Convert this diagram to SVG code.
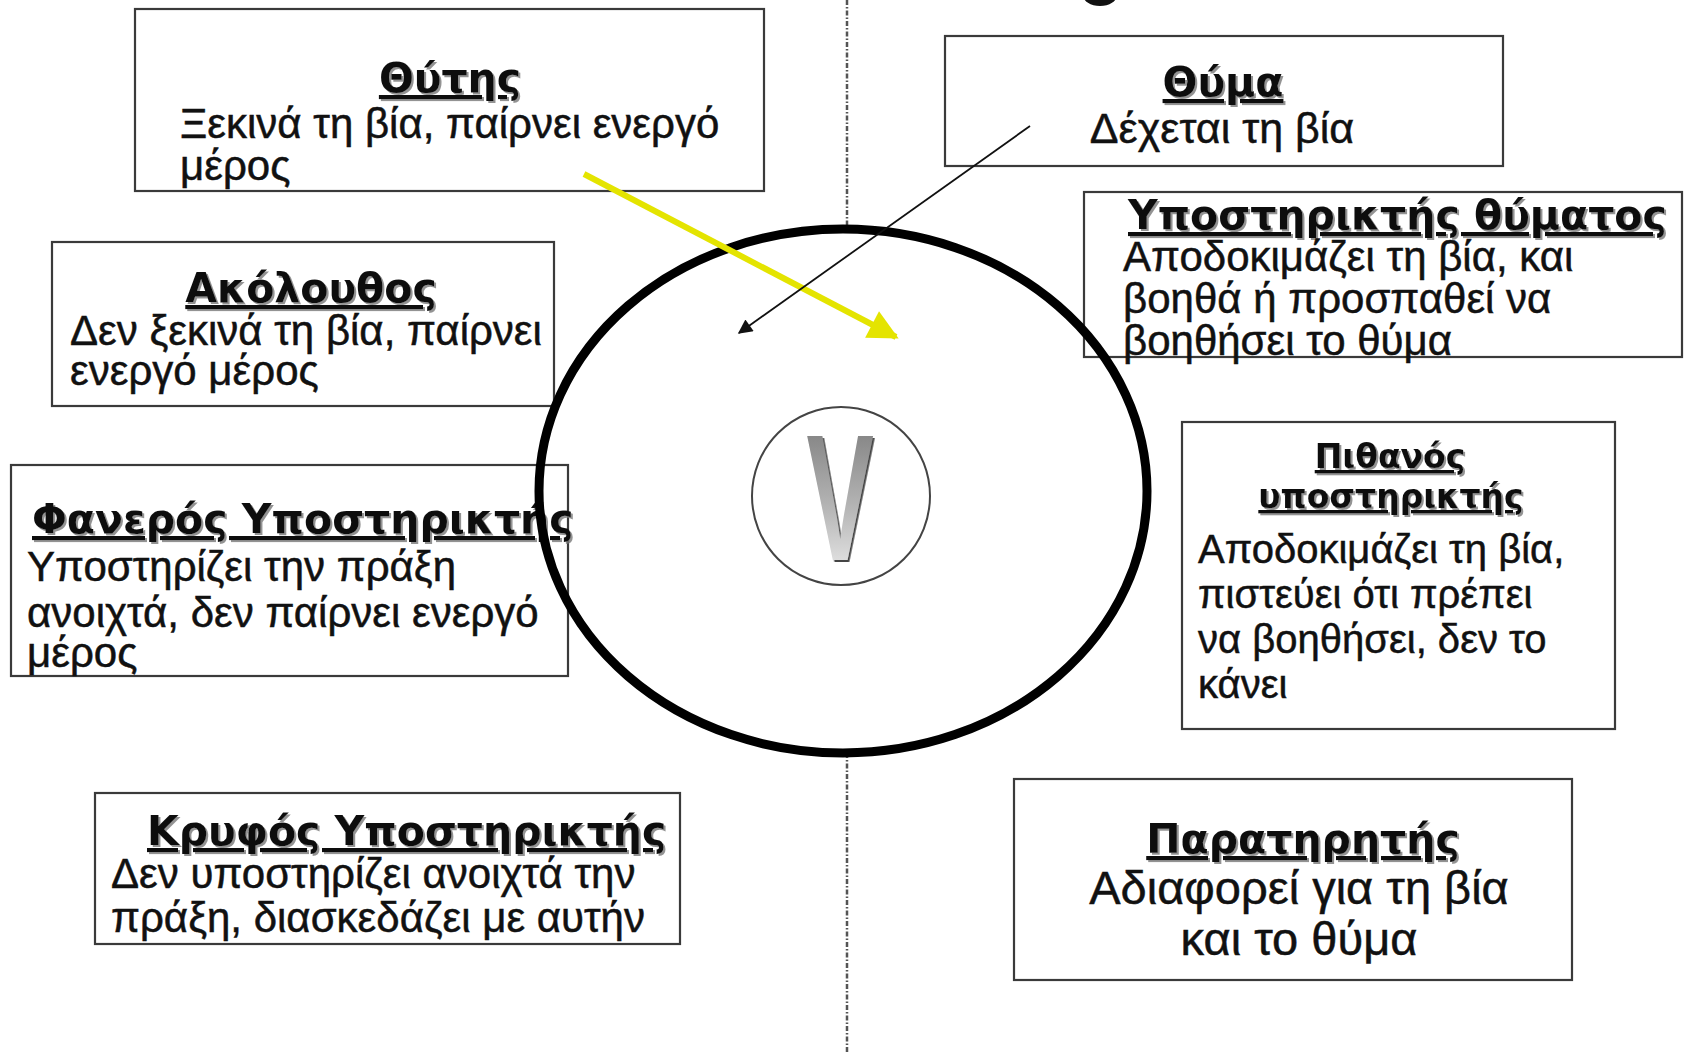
<svg xmlns="http://www.w3.org/2000/svg" width="1688" height="1054" viewBox="0 0 1688 1054">
<style>
.box{fill:#fff;stroke:#3a3a3a;stroke-width:2.2}
.t{font-family:"DejaVu Sans","Liberation Sans",sans-serif;font-weight:bold;font-size:41px;fill:#111;text-decoration:underline;filter:url(#sh)}
.ts{font-size:33px}
.b{font-family:"Liberation Sans",Arial,sans-serif;font-size:42px;fill:#111;stroke:#111;stroke-width:0.5}
.bm{font-size:40px}
.bt{font-size:43px}
.bl{font-size:47px}
.c{text-anchor:middle}
</style>
<defs>
<filter id="sh" x="-5%" y="-20%" width="110%" height="140%">
<feDropShadow dx="2" dy="2" stdDeviation="0.6" flood-color="#777" flood-opacity="0.8"/>
</filter>
<filter id="vsh" x="-20%" y="-10%" width="140%" height="120%">
<feDropShadow dx="3" dy="2" stdDeviation="0.5" flood-color="#333" flood-opacity="0.9"/>
</filter>
<linearGradient id="vg" x1="0" y1="0" x2="0" y2="1">
<stop offset="0" stop-color="#707070"/>
<stop offset="0.55" stop-color="#b5b5b5"/>
<stop offset="1" stop-color="#fafafa"/>
</linearGradient>
<marker id="ay" viewBox="0 0 10 10" refX="9" refY="5" markerWidth="5.5" markerHeight="5" orient="auto" markerUnits="strokeWidth">
<path d="M0,0 L10,5 L0,10 z" fill="#e4e400"/>
</marker>
<marker id="ab" viewBox="0 0 10 10" refX="9" refY="5" markerWidth="10" markerHeight="8" orient="auto" markerUnits="strokeWidth">
<path d="M0,0 L10,5 L0,10 z" fill="#111"/>
</marker>
</defs>
<rect width="1688" height="1054" fill="#fff"/>

<g id="divider" stroke="#555" stroke-width="2.5" stroke-dasharray="5 2 1.5 2" fill="none">
<line x1="847" y1="0" x2="847" y2="229"/>
<line x1="847" y1="753" x2="847" y2="1054"/>
</g>
<ellipse id="blob" cx="1100" cy="-5" rx="17" ry="11" fill="#111"/>

<g id="thytis">
<rect class="box" x="135" y="9" width="629" height="182"/>
<text class="t c" x="450" y="92">Θύτης</text>
<text class="b" x="180" y="138">Ξεκινά τη βία, παίρνει ενεργό</text>
<text class="b" x="180" y="180">μέρος</text>
</g>

<g id="akolouthos">
<rect class="box" x="52" y="242" width="502" height="164"/>
<text class="t c" x="311" y="302">Ακόλουθος</text>
<text class="b" x="70" y="345">Δεν ξεκινά τη βία, παίρνει</text>
<text class="b" x="70" y="385">ενεργό μέρος</text>
</g>

<g id="faneros">
<rect class="box" x="11" y="465" width="557" height="211"/>
<text class="t" x="32" y="533">Φανερός Υποστηρικτής</text>
<text class="b" x="27" y="581">Υποστηρίζει την πράξη</text>
<text class="b" x="27" y="627">ανοιχτά, δεν παίρνει ενεργό</text>
<text class="b" x="27" y="667">μέρος</text>
</g>

<g id="kryfos">
<rect class="box" x="95" y="793" width="585" height="151"/>
<text class="t" x="147" y="845">Κρυφός Υποστηρικτής</text>
<text class="b" x="111" y="888">Δεν υποστηρίζει ανοιχτά την</text>
<text class="b" x="111" y="932">πράξη, διασκεδάζει με αυτήν</text>
</g>

<g id="thyma">
<rect class="box" x="945" y="36" width="558" height="130"/>
<text class="t c" x="1223" y="96">Θύμα</text>
<text class="b bt c" x="1222" y="143">Δέχεται τη βία</text>
</g>

<g id="ypostiriktis-thymatos">
<rect class="box" x="1084" y="192" width="598" height="165"/>
<text class="t" x="1128" y="229">Υποστηρικτής θύματος</text>
<text class="b" x="1123" y="271">Αποδοκιμάζει τη βία, και</text>
<text class="b" x="1123" y="313">βοηθά ή προσπαθεί να</text>
<text class="b" x="1123" y="355">βοηθήσει το θύμα</text>
</g>

<g id="pithanos">
<rect class="box" x="1182" y="422" width="433" height="307"/>
<text class="t ts c" x="1390" y="468">Πιθανός</text>
<text class="t ts c" x="1391" y="508">υποστηρικτής</text>
<text class="b bm" x="1198" y="563">Αποδοκιμάζει τη βία,</text>
<text class="b bm" x="1198" y="608">πιστεύει ότι πρέπει</text>
<text class="b bm" x="1198" y="653">να βοηθήσει, δεν το</text>
<text class="b bm" x="1198" y="698">κάνει</text>
</g>

<g id="paratiritis">
<rect class="box" x="1014" y="779" width="558" height="201"/>
<text class="t c" x="1303" y="853">Παρατηρητής</text>
<text class="b bl c" x="1299" y="904">Αδιαφορεί για τη βία</text>
<text class="b bl c" x="1299" y="955">και το θύμα</text>
</g>

<g id="center">
<ellipse cx="843" cy="491" rx="304" ry="262" fill="none" stroke="#000" stroke-width="9"/>
<circle cx="841" cy="496" r="89" fill="#fff" stroke="#444" stroke-width="2"/>
<text x="0" y="0" transform="translate(840,560) scale(0.56,1)" text-anchor="middle" font-family="Liberation Sans, Arial, sans-serif" font-weight="bold" font-size="180" fill="url(#vg)" filter="url(#vsh)">V</text>
</g>

<g id="connectors" fill="none">
<line x1="584" y1="174" x2="896" y2="337" stroke="#e4e400" stroke-width="6" marker-end="url(#ay)"/>
<line x1="1030" y1="126" x2="739" y2="333" stroke="#111" stroke-width="1.8" marker-end="url(#ab)"/>
</g>
</svg>
